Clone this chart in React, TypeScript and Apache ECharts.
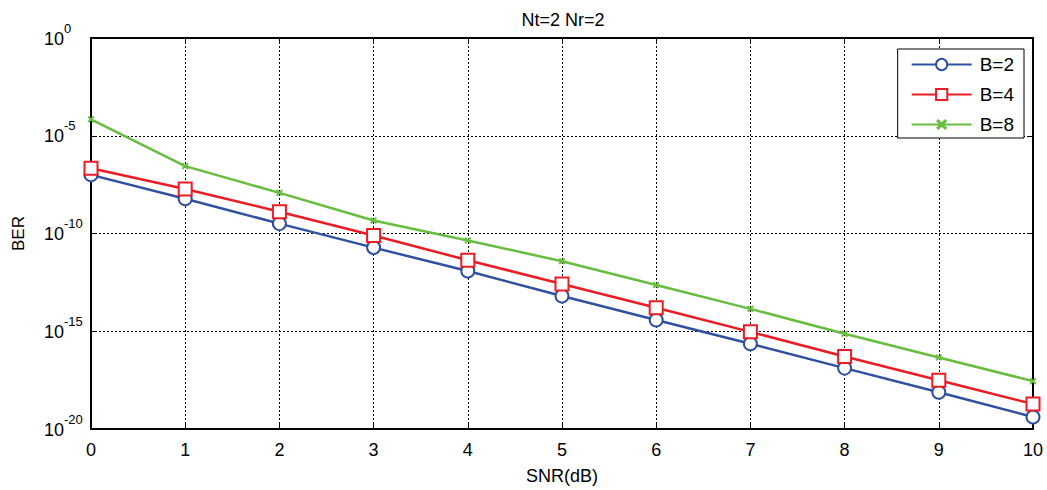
import React, { useEffect, useRef } from "react";
import * as echarts from "echarts";

const snr = [0, 1, 2, 3, 4, 5, 6, 7, 8, 9, 10];
const berB2 = [1.0e-7, 6.0e-9, 3.2e-10, 1.9e-11, 1.2e-12, 6.3e-14, 3.8e-15, 2.3e-16, 1.3e-17, 7.6e-19, 4.1e-20];
const berB4 = [2.2e-7, 1.9e-8, 1.3e-9, 7.9e-11, 4.3e-12, 2.6e-13, 1.6e-14, 9.3e-16, 5.1e-17, 3.1e-18, 1.9e-19];
const berB8 = [6.9e-5, 2.8e-7, 1.2e-8, 4.6e-10, 4.4e-11, 3.8e-12, 2.3e-13, 1.4e-14, 7.4e-16, 4.5e-17, 2.8e-18];
const seriesNames = ["B=2", "B=4", "B=8"];
const titleText = "Nt=2 Nr=2";
const xName = "SNR(dB)";
const yName = "BER";

const FONT = "Liberation Sans, Arial, sans-serif";
const starPath = "path://M0,2L2,0L5,3L8,0L10,2L7,5L10,8L8,10L5,7L2,10L0,8L3,5Z";
const BLUE = "#3050a0";
const RED = "#ec1c24";
const GREEN = "#67bd3f";

export default function App() {
  const ref = useRef<HTMLDivElement>(null);
  useEffect(() => {
    if (!ref.current) return;
    document.body.style.margin = "0";
    const chart = echarts.init(ref.current, undefined, { renderer: "svg" });
    const pair = (arr: number[]) => snr.map((x, i) => [x, arr[i]]);
    const grid = { left: 91, right: 14, top: 38, bottom: 57 };
    const gridLine = { show: true, lineStyle: { color: "#000", type: [2, 2] as any, width: 1 } };
    const boxAxisLine = { show: true, onZero: false, lineStyle: { color: "#000", width: 2 } };
    const tick = { show: true, inside: true, length: 5, lineStyle: { color: "#000" } };
    chart.setOption({
      animation: false,
      backgroundColor: "#fff",
      textStyle: { fontFamily: FONT },
      title: {
        text: titleText,
        left: 558,
        textAlign: "center",
        top: 6,
        textStyle: { fontFamily: FONT, fontSize: 18, fontWeight: "normal", color: "#000" },
      },
      grid,
      legend: {
        orient: "vertical",
        right: 23,
        top: 49,
        data: seriesNames,
        backgroundColor: "#fff",
        borderColor: "#000",
        borderWidth: 1,
        borderRadius: 0,
        padding: [6, 10, 4, 13],
        itemWidth: 60,
        itemHeight: 14,
        itemGap: 11,
        textStyle: { fontFamily: FONT, fontSize: 19, color: "#000", padding: [0, 0, 0, 3] },
      },
      xAxis: [
        {
          type: "value",
          min: 0,
          max: 10,
          interval: 1,
          name: xName,
          nameLocation: "middle",
          nameGap: 38,
          nameTextStyle: { fontFamily: FONT, fontSize: 18, color: "#000" },
          axisLine: boxAxisLine,
          axisTick: tick,
          axisLabel: { fontFamily: FONT, fontSize: 18, color: "#000", margin: 12 },
          splitLine: gridLine,
        },
        {
          type: "value",
          position: "top",
          min: 0,
          max: 10,
          interval: 1,
          axisLine: boxAxisLine,
          axisTick: tick,
          axisLabel: { show: false },
          splitLine: { show: false },
        },
      ],
      yAxis: [
        {
          type: "log",
          logBase: 10,
          min: 1e-20,
          max: 1,
          interval: 5,
          name: yName,
          nameLocation: "middle",
          nameGap: 64,
          nameRotate: 90,
          nameTextStyle: { fontFamily: FONT, fontSize: 17, color: "#000" },
          axisLine: boxAxisLine,
          axisTick: tick,
          axisLabel: {
            margin: 47,
            align: "left",
            formatter: (v: number) => {
              const e = Math.round(Math.log10(v));
              return `{b|10}{s|${e}}`;
            },
            rich: {
              b: { fontFamily: FONT, fontSize: 18, color: "#000", lineHeight: 18, padding: [8, 0, 7, 0] },
              s: { fontFamily: FONT, fontSize: 13, color: "#000", lineHeight: 13, padding: [0, 0, 20, 0] },
            },
          },
          splitLine: gridLine,
        },
        {
          type: "log",
          logBase: 10,
          min: 1e-20,
          max: 1,
          interval: 5,
          position: "right",
          axisLine: boxAxisLine,
          axisTick: tick,
          axisLabel: { show: false },
          splitLine: { show: false },
        },
      ],
      series: [
        {
          name: seriesNames[0],
          type: "line",
          data: pair(berB2),
          color: BLUE,
          lineStyle: { width: 2.5, color: BLUE },
          symbol: "emptyCircle",
          symbolSize: 13,
          itemStyle: { borderColor: BLUE, borderWidth: 2.5 },
          z: 3,
        },
        {
          name: seriesNames[1],
          type: "line",
          data: pair(berB4),
          color: RED,
          lineStyle: { width: 2.5, color: RED },
          symbol: "emptyRect",
          symbolSize: 13,
          itemStyle: { borderColor: RED, borderWidth: 2.5 },
          z: 4,
        },
        {
          name: seriesNames[2],
          type: "line",
          data: pair(berB8),
          color: GREEN,
          lineStyle: { width: 2.5, color: GREEN },
          symbol: starPath,
          symbolSize: 7,
          itemStyle: { color: GREEN, borderWidth: 0 },
          z: 5,
        },
      ],
    });
    return () => chart.dispose();
  }, []);
  return <div ref={ref} style={{ width: 1047, height: 490 }} />;
}
